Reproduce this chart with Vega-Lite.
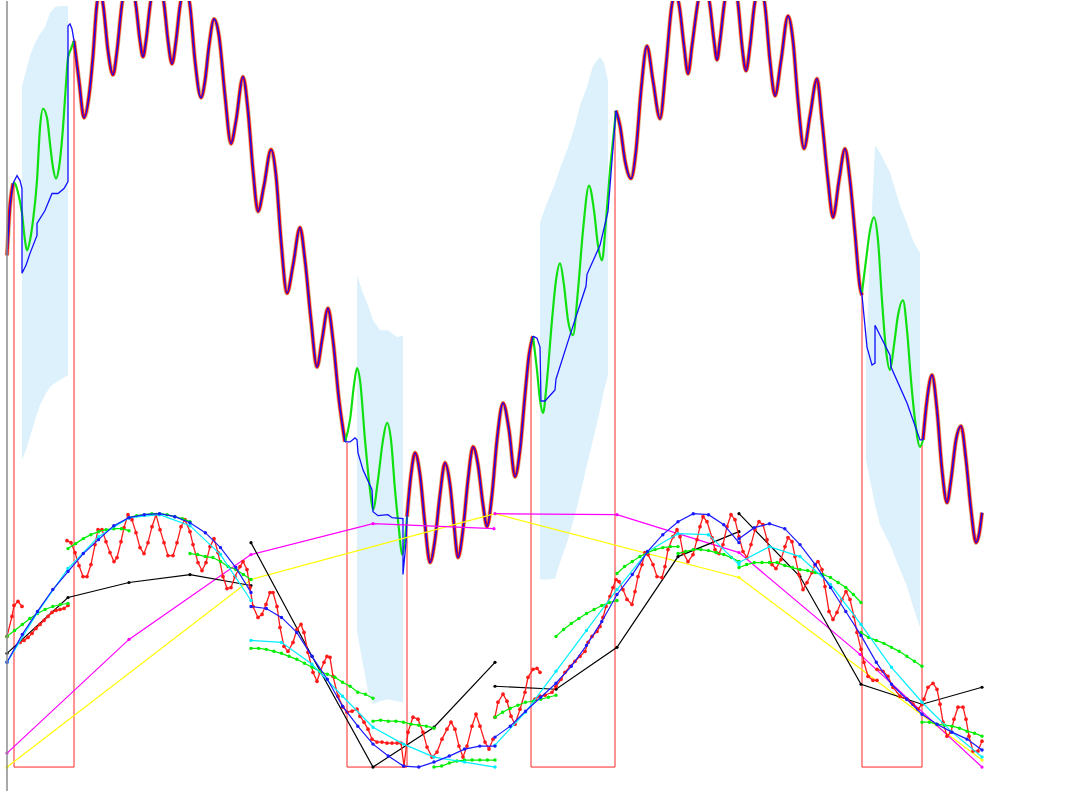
{
  "$schema": "https://vega.github.io/schema/vega-lite/v6.json",
  "width": 1066,
  "height": 792,
  "autosize": {"type": "fit", "contains": "padding"},
  "padding": 0,
  "config": {"view": {"stroke": null}},
  "datasets": {
    "bands": [
      {"band": 1, "x": 22, "top": 85, "bot": 460}, {"band": 1, "x": 26, "top": 70, "bot": 450}, {"band": 1, "x": 30, "top": 55, "bot": 437}, {"band": 1, "x": 35, "top": 42, "bot": 420}, {"band": 1, "x": 40, "top": 33, "bot": 405}, {"band": 1, "x": 45, "top": 26, "bot": 395}, {"band": 1, "x": 50, "top": 12, "bot": 387}, {"band": 1, "x": 55, "top": 6, "bot": 383}, {"band": 1, "x": 60, "top": 5, "bot": 380}, {"band": 1, "x": 68, "top": 5, "bot": 375},
      {"band": 2, "x": 357, "top": 275, "bot": 632}, {"band": 2, "x": 363, "top": 293, "bot": 665}, {"band": 2, "x": 368, "top": 305, "bot": 692}, {"band": 2, "x": 373, "top": 320, "bot": 705}, {"band": 2, "x": 380, "top": 330, "bot": 702}, {"band": 2, "x": 388, "top": 330, "bot": 700}, {"band": 2, "x": 397, "top": 337, "bot": 702}, {"band": 2, "x": 403, "top": 335, "bot": 703},
      {"band": 3, "x": 540, "top": 222, "bot": 580}, {"band": 3, "x": 548, "top": 200, "bot": 580}, {"band": 3, "x": 555, "top": 183, "bot": 579}, {"band": 3, "x": 561, "top": 165, "bot": 560}, {"band": 3, "x": 568, "top": 147, "bot": 540}, {"band": 3, "x": 575, "top": 125, "bot": 515}, {"band": 3, "x": 580, "top": 105, "bot": 495}, {"band": 3, "x": 587, "top": 86, "bot": 465}, {"band": 3, "x": 593, "top": 65, "bot": 440}, {"band": 3, "x": 600, "top": 56, "bot": 410}, {"band": 3, "x": 604, "top": 62, "bot": 390}, {"band": 3, "x": 608, "top": 80, "bot": 375},
      {"band": 4, "x": 866, "top": 360, "bot": 460}, {"band": 4, "x": 870, "top": 250, "bot": 480}, {"band": 4, "x": 875, "top": 145, "bot": 505}, {"band": 4, "x": 880, "top": 152, "bot": 525}, {"band": 4, "x": 890, "top": 172, "bot": 545}, {"band": 4, "x": 900, "top": 205, "bot": 570}, {"band": 4, "x": 907, "top": 223, "bot": 587}, {"band": 4, "x": 913, "top": 240, "bot": 607}, {"band": 4, "x": 920, "top": 253, "bot": 628}
    ],
    "price": [
      {"seg": "r0", "x": 7, "y": 255}, {"seg": "r0", "x": 10, "y": 205}, {"seg": "r0", "x": 13, "y": 183},
      {"seg": "g1", "x": 13, "y": 182}, {"seg": "g1", "x": 15, "y": 183}, {"seg": "g1", "x": 18, "y": 192}, {"seg": "g1", "x": 22, "y": 213}, {"seg": "g1", "x": 25, "y": 240}, {"seg": "g1", "x": 27, "y": 250}, {"seg": "g1", "x": 30, "y": 240}, {"seg": "g1", "x": 33, "y": 220}, {"seg": "g1", "x": 37, "y": 180}, {"seg": "g1", "x": 40, "y": 127}, {"seg": "g1", "x": 43, "y": 108}, {"seg": "g1", "x": 47, "y": 117}, {"seg": "g1", "x": 50, "y": 143}, {"seg": "g1", "x": 53, "y": 167}, {"seg": "g1", "x": 56, "y": 178}, {"seg": "g1", "x": 59, "y": 167}, {"seg": "g1", "x": 63, "y": 127}, {"seg": "g1", "x": 66, "y": 83}, {"seg": "g1", "x": 68, "y": 57}, {"seg": "g1", "x": 71, "y": 48}, {"seg": "g1", "x": 74, "y": 40},
      {"seg": "rA", "x": 74, "y": 40}, {"seg": "rA", "x": 79, "y": 80}, {"seg": "rA", "x": 84, "y": 117}, {"seg": "rA", "x": 89, "y": 95}, {"seg": "rA", "x": 93, "y": 55}, {"seg": "rA", "x": 96.7, "y": 5}, {"seg": "rA", "x": 100, "y": -12}, {"seg": "rA", "x": 103.3, "y": 5}, {"seg": "rA", "x": 108, "y": 50}, {"seg": "rA", "x": 113, "y": 74}, {"seg": "rA", "x": 117, "y": 50}, {"seg": "rA", "x": 121.7, "y": 5}, {"seg": "rA", "x": 129, "y": -30}, {"seg": "rA", "x": 136, "y": 5}, {"seg": "rA", "x": 140, "y": 40}, {"seg": "rA", "x": 143, "y": 56}, {"seg": "rA", "x": 146, "y": 40}, {"seg": "rA", "x": 150, "y": 5}, {"seg": "rA", "x": 157, "y": -30}, {"seg": "rA", "x": 164.3, "y": 5}, {"seg": "rA", "x": 168, "y": 40}, {"seg": "rA", "x": 172, "y": 63}, {"seg": "rA", "x": 176, "y": 40}, {"seg": "rA", "x": 180, "y": 5}, {"seg": "rA", "x": 185, "y": -15}, {"seg": "rA", "x": 190, "y": 5}, {"seg": "rA", "x": 195, "y": 60}, {"seg": "rA", "x": 201, "y": 97}, {"seg": "rA", "x": 205, "y": 80}, {"seg": "rA", "x": 209, "y": 45}, {"seg": "rA", "x": 214, "y": 18}, {"seg": "rA", "x": 219, "y": 35}, {"seg": "rA", "x": 225, "y": 95}, {"seg": "rA", "x": 231, "y": 143}, {"seg": "rA", "x": 236, "y": 120}, {"seg": "rA", "x": 243, "y": 76}, {"seg": "rA", "x": 248, "y": 110}, {"seg": "rA", "x": 253, "y": 170}, {"seg": "rA", "x": 258, "y": 211}, {"seg": "rA", "x": 264, "y": 185}, {"seg": "rA", "x": 271, "y": 149}, {"seg": "rA", "x": 276, "y": 175}, {"seg": "rA", "x": 281, "y": 240}, {"seg": "rA", "x": 287, "y": 293}, {"seg": "rA", "x": 293, "y": 265}, {"seg": "rA", "x": 300, "y": 227}, {"seg": "rA", "x": 305, "y": 260}, {"seg": "rA", "x": 311, "y": 320}, {"seg": "rA", "x": 317, "y": 367}, {"seg": "rA", "x": 322, "y": 340}, {"seg": "rA", "x": 328, "y": 308}, {"seg": "rA", "x": 333, "y": 340}, {"seg": "rA", "x": 339, "y": 400}, {"seg": "rA", "x": 345, "y": 442},
      {"seg": "g2", "x": 345, "y": 442}, {"seg": "g2", "x": 350, "y": 420}, {"seg": "g2", "x": 354, "y": 385}, {"seg": "g2", "x": 357, "y": 368}, {"seg": "g2", "x": 360, "y": 380}, {"seg": "g2", "x": 365, "y": 440}, {"seg": "g2", "x": 370, "y": 490}, {"seg": "g2", "x": 373, "y": 510}, {"seg": "g2", "x": 378, "y": 480}, {"seg": "g2", "x": 383, "y": 440}, {"seg": "g2", "x": 387, "y": 423}, {"seg": "g2", "x": 391, "y": 440}, {"seg": "g2", "x": 395, "y": 490}, {"seg": "g2", "x": 399, "y": 530}, {"seg": "g2", "x": 402, "y": 555}, {"seg": "g2", "x": 405, "y": 540}, {"seg": "g2", "x": 407, "y": 517},
      {"seg": "rB", "x": 407, "y": 517}, {"seg": "rB", "x": 411, "y": 475}, {"seg": "rB", "x": 415, "y": 453}, {"seg": "rB", "x": 420, "y": 475}, {"seg": "rB", "x": 425, "y": 525}, {"seg": "rB", "x": 430, "y": 563}, {"seg": "rB", "x": 435, "y": 540}, {"seg": "rB", "x": 440, "y": 495}, {"seg": "rB", "x": 445, "y": 463}, {"seg": "rB", "x": 450, "y": 485}, {"seg": "rB", "x": 454, "y": 525}, {"seg": "rB", "x": 458, "y": 558}, {"seg": "rB", "x": 463, "y": 530}, {"seg": "rB", "x": 468, "y": 480}, {"seg": "rB", "x": 473, "y": 447}, {"seg": "rB", "x": 478, "y": 465}, {"seg": "rB", "x": 483, "y": 505}, {"seg": "rB", "x": 487, "y": 527}, {"seg": "rB", "x": 492, "y": 495}, {"seg": "rB", "x": 497, "y": 440}, {"seg": "rB", "x": 503, "y": 403}, {"seg": "rB", "x": 509, "y": 430}, {"seg": "rB", "x": 515, "y": 477}, {"seg": "rB", "x": 520, "y": 450}, {"seg": "rB", "x": 525, "y": 395}, {"seg": "rB", "x": 529, "y": 355}, {"seg": "rB", "x": 533, "y": 336},
      {"seg": "g3", "x": 533, "y": 336}, {"seg": "g3", "x": 537, "y": 370}, {"seg": "g3", "x": 540, "y": 400}, {"seg": "g3", "x": 543, "y": 413}, {"seg": "g3", "x": 547, "y": 380}, {"seg": "g3", "x": 552, "y": 320}, {"seg": "g3", "x": 556, "y": 280}, {"seg": "g3", "x": 560, "y": 263}, {"seg": "g3", "x": 564, "y": 285}, {"seg": "g3", "x": 568, "y": 320}, {"seg": "g3", "x": 573, "y": 335}, {"seg": "g3", "x": 578, "y": 290}, {"seg": "g3", "x": 583, "y": 230}, {"seg": "g3", "x": 589, "y": 185}, {"seg": "g3", "x": 594, "y": 210}, {"seg": "g3", "x": 598, "y": 245}, {"seg": "g3", "x": 602, "y": 260}, {"seg": "g3", "x": 606, "y": 220}, {"seg": "g3", "x": 610, "y": 170}, {"seg": "g3", "x": 613, "y": 140}, {"seg": "g3", "x": 616, "y": 110},
      {"seg": "rC", "x": 616, "y": 110}, {"seg": "rC", "x": 620, "y": 125}, {"seg": "rC", "x": 625, "y": 160}, {"seg": "rC", "x": 631, "y": 178}, {"seg": "rC", "x": 636, "y": 150}, {"seg": "rC", "x": 641, "y": 90}, {"seg": "rC", "x": 647, "y": 45}, {"seg": "rC", "x": 653, "y": 80}, {"seg": "rC", "x": 660, "y": 118}, {"seg": "rC", "x": 666, "y": 65}, {"seg": "rC", "x": 671.7, "y": 5}, {"seg": "rC", "x": 675.5, "y": -8}, {"seg": "rC", "x": 679.3, "y": 5}, {"seg": "rC", "x": 684, "y": 45}, {"seg": "rC", "x": 688, "y": 73}, {"seg": "rC", "x": 692, "y": 45}, {"seg": "rC", "x": 697.3, "y": 5}, {"seg": "rC", "x": 703.7, "y": -25}, {"seg": "rC", "x": 710, "y": 5}, {"seg": "rC", "x": 714, "y": 40}, {"seg": "rC", "x": 717, "y": 59}, {"seg": "rC", "x": 720, "y": 40}, {"seg": "rC", "x": 724, "y": 5}, {"seg": "rC", "x": 731, "y": -30}, {"seg": "rC", "x": 738.3, "y": 5}, {"seg": "rC", "x": 742, "y": 45}, {"seg": "rC", "x": 746, "y": 70}, {"seg": "rC", "x": 750, "y": 45}, {"seg": "rC", "x": 754.3, "y": 5}, {"seg": "rC", "x": 759.7, "y": -15}, {"seg": "rC", "x": 765, "y": 5}, {"seg": "rC", "x": 770, "y": 60}, {"seg": "rC", "x": 775, "y": 95}, {"seg": "rC", "x": 781, "y": 60}, {"seg": "rC", "x": 788, "y": 15}, {"seg": "rC", "x": 793, "y": 40}, {"seg": "rC", "x": 798, "y": 100}, {"seg": "rC", "x": 804, "y": 148}, {"seg": "rC", "x": 810, "y": 115}, {"seg": "rC", "x": 817, "y": 78}, {"seg": "rC", "x": 822, "y": 120}, {"seg": "rC", "x": 828, "y": 180}, {"seg": "rC", "x": 833, "y": 217}, {"seg": "rC", "x": 839, "y": 180}, {"seg": "rC", "x": 845, "y": 148}, {"seg": "rC", "x": 850, "y": 180}, {"seg": "rC", "x": 855, "y": 233}, {"seg": "rC", "x": 860, "y": 287}, {"seg": "rC", "x": 862, "y": 295},
      {"seg": "g4", "x": 862, "y": 292}, {"seg": "g4", "x": 866, "y": 260}, {"seg": "g4", "x": 870, "y": 230}, {"seg": "g4", "x": 874, "y": 217}, {"seg": "g4", "x": 878, "y": 240}, {"seg": "g4", "x": 882, "y": 300}, {"seg": "g4", "x": 886, "y": 350}, {"seg": "g4", "x": 890, "y": 370}, {"seg": "g4", "x": 894, "y": 345}, {"seg": "g4", "x": 898, "y": 315}, {"seg": "g4", "x": 903, "y": 300}, {"seg": "g4", "x": 907, "y": 330}, {"seg": "g4", "x": 911, "y": 380}, {"seg": "g4", "x": 915, "y": 420}, {"seg": "g4", "x": 920, "y": 447}, {"seg": "g4", "x": 923, "y": 440},
      {"seg": "rD", "x": 923, "y": 440}, {"seg": "rD", "x": 927, "y": 400}, {"seg": "rD", "x": 932, "y": 375}, {"seg": "rD", "x": 937, "y": 410}, {"seg": "rD", "x": 942, "y": 470}, {"seg": "rD", "x": 947, "y": 503}, {"seg": "rD", "x": 951, "y": 480}, {"seg": "rD", "x": 956, "y": 440}, {"seg": "rD", "x": 961, "y": 426}, {"seg": "rD", "x": 966, "y": 460}, {"seg": "rD", "x": 971, "y": 510}, {"seg": "rD", "x": 976, "y": 543}, {"seg": "rD", "x": 979, "y": 535}, {"seg": "rD", "x": 982, "y": 513}
    ],
    "bluepath": [
      {"p": 1, "i": 1, "x": 7, "y": 255}, {"p": 1, "i": 2, "x": 10, "y": 205}, {"p": 1, "i": 3, "x": 13, "y": 183}, {"p": 1, "i": 4, "x": 17, "y": 175}, {"p": 1, "i": 5, "x": 20, "y": 180}, {"p": 1, "i": 6, "x": 22, "y": 188}, {"p": 1, "i": 7, "x": 22, "y": 273}, {"p": 1, "i": 8, "x": 26, "y": 265}, {"p": 1, "i": 9, "x": 30, "y": 253}, {"p": 1, "i": 10, "x": 37, "y": 235}, {"p": 1, "i": 11, "x": 37, "y": 223}, {"p": 1, "i": 12, "x": 45, "y": 210}, {"p": 1, "i": 13, "x": 52, "y": 193}, {"p": 1, "i": 14, "x": 58, "y": 193}, {"p": 1, "i": 15, "x": 64, "y": 188}, {"p": 1, "i": 16, "x": 68, "y": 181}, {"p": 1, "i": 17, "x": 68, "y": 25}, {"p": 1, "i": 18, "x": 70, "y": 23}, {"p": 1, "i": 19, "x": 72, "y": 28}, {"p": 1, "i": 20, "x": 74, "y": 40},
      {"p": 2, "i": 1, "x": 345, "y": 442}, {"p": 2, "i": 2, "x": 350, "y": 442}, {"p": 2, "i": 3, "x": 355, "y": 438}, {"p": 2, "i": 4, "x": 357, "y": 440}, {"p": 2, "i": 5, "x": 358, "y": 453}, {"p": 2, "i": 6, "x": 363, "y": 470}, {"p": 2, "i": 7, "x": 372, "y": 490}, {"p": 2, "i": 8, "x": 373, "y": 512}, {"p": 2, "i": 9, "x": 378, "y": 516}, {"p": 2, "i": 10, "x": 388, "y": 515}, {"p": 2, "i": 11, "x": 392, "y": 518}, {"p": 2, "i": 12, "x": 403, "y": 519}, {"p": 2, "i": 13, "x": 403, "y": 575}, {"p": 2, "i": 14, "x": 406, "y": 543}, {"p": 2, "i": 15, "x": 407, "y": 517},
      {"p": 3, "i": 1, "x": 533, "y": 336}, {"p": 3, "i": 2, "x": 537, "y": 338}, {"p": 3, "i": 3, "x": 540, "y": 347}, {"p": 3, "i": 4, "x": 541, "y": 401}, {"p": 3, "i": 5, "x": 545, "y": 401}, {"p": 3, "i": 6, "x": 555, "y": 390}, {"p": 3, "i": 7, "x": 556, "y": 379}, {"p": 3, "i": 8, "x": 570, "y": 335}, {"p": 3, "i": 9, "x": 586, "y": 286}, {"p": 3, "i": 10, "x": 587, "y": 274}, {"p": 3, "i": 11, "x": 600, "y": 245}, {"p": 3, "i": 12, "x": 608, "y": 211}, {"p": 3, "i": 13, "x": 615, "y": 122}, {"p": 3, "i": 14, "x": 616, "y": 110},
      {"p": 4, "i": 1, "x": 862, "y": 295}, {"p": 4, "i": 2, "x": 867, "y": 347}, {"p": 4, "i": 3, "x": 872, "y": 365}, {"p": 4, "i": 4, "x": 875, "y": 363}, {"p": 4, "i": 5, "x": 875, "y": 325}, {"p": 4, "i": 6, "x": 890, "y": 355}, {"p": 4, "i": 7, "x": 891, "y": 367}, {"p": 4, "i": 8, "x": 907, "y": 403}, {"p": 4, "i": 9, "x": 920, "y": 440}, {"p": 4, "i": 10, "x": 923, "y": 440}
    ],
    "boxes": [
      {"x1": 14, "x2": 74, "t1": 183, "t2": 38, "b": 768},
      {"x1": 347, "x2": 407, "t1": 443, "t2": 517, "b": 768},
      {"x1": 531, "x2": 615, "t1": 337, "t2": 110, "b": 768},
      {"x1": 862, "x2": 922, "t1": 292, "t2": 445, "b": 768}
    ],
    "edge": [{"x": 7, "y": 0, "y2": 792}],
    "osc": [
      {"s": "y", "g": 1, "x": 7, "y": 768}, {"s": "y", "g": 1, "x": 251, "y": 580}, {"s": "y", "g": 1, "x": 495, "y": 514}, {"s": "y", "g": 1, "x": 739, "y": 578}, {"s": "y", "g": 1, "x": 982, "y": 761},
      {"s": "m", "g": 1, "x": 7, "y": 754}, {"s": "m", "g": 1, "x": 129, "y": 640}, {"s": "m", "g": 1, "x": 251, "y": 555}, {"s": "m", "g": 1, "x": 373, "y": 524}, {"s": "m", "g": 1, "x": 494, "y": 529},
      {"s": "m", "g": 2, "x": 495, "y": 514}, {"s": "m", "g": 2, "x": 617, "y": 515}, {"s": "m", "g": 2, "x": 739, "y": 553}, {"s": "m", "g": 2, "x": 860, "y": 655}, {"s": "m", "g": 2, "x": 982, "y": 768},
      {"s": "k", "g": 1, "x": 7, "y": 654}, {"s": "k", "g": 1, "x": 68, "y": 598}, {"s": "k", "g": 1, "x": 129, "y": 583}, {"s": "k", "g": 1, "x": 190, "y": 575}, {"s": "k", "g": 1, "x": 251, "y": 586},
      {"s": "k", "g": 2, "x": 251, "y": 543}, {"s": "k", "g": 2, "x": 312, "y": 657}, {"s": "k", "g": 2, "x": 373, "y": 768}, {"s": "k", "g": 2, "x": 434, "y": 728}, {"s": "k", "g": 2, "x": 495, "y": 663},
      {"s": "k", "g": 3, "x": 495, "y": 687}, {"s": "k", "g": 3, "x": 556, "y": 690}, {"s": "k", "g": 3, "x": 617, "y": 648}, {"s": "k", "g": 3, "x": 678, "y": 557}, {"s": "k", "g": 3, "x": 739, "y": 532},
      {"s": "k", "g": 4, "x": 739, "y": 514}, {"s": "k", "g": 4, "x": 800, "y": 577}, {"s": "k", "g": 4, "x": 861, "y": 685}, {"s": "k", "g": 4, "x": 922, "y": 705}, {"s": "k", "g": 4, "x": 982, "y": 688},
      {"s": "r", "g": 1, "x": 7, "y": 637}, {"s": "r", "g": 1, "x": 12, "y": 617}, {"s": "r", "g": 1, "x": 14, "y": 606}, {"s": "r", "g": 1, "x": 18, "y": 602}, {"s": "r", "g": 1, "x": 22, "y": 607},
      {"s": "r", "g": 2, "x": 20, "y": 643}, {"s": "r", "g": 2, "x": 24, "y": 641}, {"s": "r", "g": 2, "x": 28, "y": 638}, {"s": "r", "g": 2, "x": 32, "y": 634}, {"s": "r", "g": 2, "x": 36, "y": 629}, {"s": "r", "g": 2, "x": 40, "y": 625}, {"s": "r", "g": 2, "x": 44, "y": 621}, {"s": "r", "g": 2, "x": 48, "y": 617}, {"s": "r", "g": 2, "x": 52, "y": 613}, {"s": "r", "g": 2, "x": 56, "y": 611}, {"s": "r", "g": 2, "x": 60, "y": 610}, {"s": "r", "g": 2, "x": 64, "y": 609}, {"s": "r", "g": 2, "x": 68, "y": 606},
      {"s": "r", "g": 3, "x": 67, "y": 541}, {"s": "r", "g": 3, "x": 71, "y": 543}, {"s": "r", "g": 3, "x": 75, "y": 553}, {"s": "r", "g": 3, "x": 79, "y": 566}, {"s": "r", "g": 3, "x": 83, "y": 577}, {"s": "r", "g": 3, "x": 87, "y": 577}, {"s": "r", "g": 3, "x": 91, "y": 565}, {"s": "r", "g": 3, "x": 95, "y": 545}, {"s": "r", "g": 3, "x": 98, "y": 530}, {"s": "r", "g": 3, "x": 102, "y": 530}, {"s": "r", "g": 3, "x": 106, "y": 542}, {"s": "r", "g": 3, "x": 110, "y": 553}, {"s": "r", "g": 3, "x": 114, "y": 562}, {"s": "r", "g": 3, "x": 117, "y": 558}, {"s": "r", "g": 3, "x": 121, "y": 542}, {"s": "r", "g": 3, "x": 124, "y": 528}, {"s": "r", "g": 3, "x": 128, "y": 515}, {"s": "r", "g": 3, "x": 132, "y": 520}, {"s": "r", "g": 3, "x": 136, "y": 533}, {"s": "r", "g": 3, "x": 140, "y": 548}, {"s": "r", "g": 3, "x": 144, "y": 554}, {"s": "r", "g": 3, "x": 148, "y": 543}, {"s": "r", "g": 3, "x": 152, "y": 527}, {"s": "r", "g": 3, "x": 156, "y": 515}, {"s": "r", "g": 3, "x": 160, "y": 530}, {"s": "r", "g": 3, "x": 164, "y": 543}, {"s": "r", "g": 3, "x": 168, "y": 556}, {"s": "r", "g": 3, "x": 173, "y": 556}, {"s": "r", "g": 3, "x": 177, "y": 543}, {"s": "r", "g": 3, "x": 181, "y": 527}, {"s": "r", "g": 3, "x": 185, "y": 520}, {"s": "r", "g": 3, "x": 190, "y": 532}, {"s": "r", "g": 3, "x": 193, "y": 545}, {"s": "r", "g": 3, "x": 198, "y": 563}, {"s": "r", "g": 3, "x": 202, "y": 571}, {"s": "r", "g": 3, "x": 206, "y": 563}, {"s": "r", "g": 3, "x": 210, "y": 547}, {"s": "r", "g": 3, "x": 214, "y": 539}, {"s": "r", "g": 3, "x": 218, "y": 553}, {"s": "r", "g": 3, "x": 223, "y": 577}, {"s": "r", "g": 3, "x": 227, "y": 589}, {"s": "r", "g": 3, "x": 231, "y": 588}, {"s": "r", "g": 3, "x": 235, "y": 577}, {"s": "r", "g": 3, "x": 240, "y": 567}, {"s": "r", "g": 3, "x": 243, "y": 562}, {"s": "r", "g": 3, "x": 247, "y": 570}, {"s": "r", "g": 3, "x": 250, "y": 588}, {"s": "r", "g": 3, "x": 253, "y": 607}, {"s": "r", "g": 3, "x": 258, "y": 618}, {"s": "r", "g": 3, "x": 262, "y": 615}, {"s": "r", "g": 3, "x": 266, "y": 605}, {"s": "r", "g": 3, "x": 270, "y": 593}, {"s": "r", "g": 3, "x": 273, "y": 593}, {"s": "r", "g": 3, "x": 277, "y": 607}, {"s": "r", "g": 3, "x": 280, "y": 628}, {"s": "r", "g": 3, "x": 284, "y": 647}, {"s": "r", "g": 3, "x": 288, "y": 652}, {"s": "r", "g": 3, "x": 293, "y": 643}, {"s": "r", "g": 3, "x": 297, "y": 630}, {"s": "r", "g": 3, "x": 301, "y": 625}, {"s": "r", "g": 3, "x": 304, "y": 633}, {"s": "r", "g": 3, "x": 308, "y": 653}, {"s": "r", "g": 3, "x": 313, "y": 673}, {"s": "r", "g": 3, "x": 317, "y": 682}, {"s": "r", "g": 3, "x": 320, "y": 673}, {"s": "r", "g": 3, "x": 324, "y": 663}, {"s": "r", "g": 3, "x": 327, "y": 657}, {"s": "r", "g": 3, "x": 330, "y": 658}, {"s": "r", "g": 3, "x": 333, "y": 677}, {"s": "r", "g": 3, "x": 338, "y": 697}, {"s": "r", "g": 3, "x": 343, "y": 708}, {"s": "r", "g": 3, "x": 347, "y": 713}, {"s": "r", "g": 3, "x": 352, "y": 712}, {"s": "r", "g": 3, "x": 357, "y": 710}, {"s": "r", "g": 3, "x": 360, "y": 717}, {"s": "r", "g": 3, "x": 364, "y": 723}, {"s": "r", "g": 3, "x": 368, "y": 730}, {"s": "r", "g": 3, "x": 372, "y": 740}, {"s": "r", "g": 3, "x": 377, "y": 743}, {"s": "r", "g": 3, "x": 382, "y": 743}, {"s": "r", "g": 3, "x": 387, "y": 744}, {"s": "r", "g": 3, "x": 392, "y": 744}, {"s": "r", "g": 3, "x": 397, "y": 744}, {"s": "r", "g": 3, "x": 401, "y": 744}, {"s": "r", "g": 3, "x": 404, "y": 767}, {"s": "r", "g": 3, "x": 408, "y": 733}, {"s": "r", "g": 3, "x": 413, "y": 718}, {"s": "r", "g": 3, "x": 418, "y": 720}, {"s": "r", "g": 3, "x": 423, "y": 733}, {"s": "r", "g": 3, "x": 427, "y": 748}, {"s": "r", "g": 3, "x": 432, "y": 758}, {"s": "r", "g": 3, "x": 437, "y": 753}, {"s": "r", "g": 3, "x": 442, "y": 740}, {"s": "r", "g": 3, "x": 447, "y": 730}, {"s": "r", "g": 3, "x": 451, "y": 723}, {"s": "r", "g": 3, "x": 455, "y": 730}, {"s": "r", "g": 3, "x": 459, "y": 747}, {"s": "r", "g": 3, "x": 463, "y": 758}, {"s": "r", "g": 3, "x": 467, "y": 747}, {"s": "r", "g": 3, "x": 472, "y": 727}, {"s": "r", "g": 3, "x": 476, "y": 715}, {"s": "r", "g": 3, "x": 480, "y": 727}, {"s": "r", "g": 3, "x": 485, "y": 743}, {"s": "r", "g": 3, "x": 489, "y": 750}, {"s": "r", "g": 3, "x": 493, "y": 740},
      {"s": "r", "g": 4, "x": 495, "y": 718}, {"s": "r", "g": 4, "x": 498, "y": 703}, {"s": "r", "g": 4, "x": 503, "y": 695}, {"s": "r", "g": 4, "x": 507, "y": 702}, {"s": "r", "g": 4, "x": 511, "y": 717}, {"s": "r", "g": 4, "x": 515, "y": 725}, {"s": "r", "g": 4, "x": 520, "y": 710}, {"s": "r", "g": 4, "x": 525, "y": 693}, {"s": "r", "g": 4, "x": 528, "y": 678}, {"s": "r", "g": 4, "x": 533, "y": 670}, {"s": "r", "g": 4, "x": 537, "y": 669}, {"s": "r", "g": 4, "x": 540, "y": 673},
      {"s": "r", "g": 5, "x": 535, "y": 700}, {"s": "r", "g": 5, "x": 540, "y": 697}, {"s": "r", "g": 5, "x": 545, "y": 696}, {"s": "r", "g": 5, "x": 552, "y": 693}, {"s": "r", "g": 5, "x": 556, "y": 687}, {"s": "r", "g": 5, "x": 561, "y": 680}, {"s": "r", "g": 5, "x": 565, "y": 673}, {"s": "r", "g": 5, "x": 570, "y": 667}, {"s": "r", "g": 5, "x": 575, "y": 662}, {"s": "r", "g": 5, "x": 580, "y": 657}, {"s": "r", "g": 5, "x": 585, "y": 652}, {"s": "r", "g": 5, "x": 588, "y": 643}, {"s": "r", "g": 5, "x": 592, "y": 637}, {"s": "r", "g": 5, "x": 597, "y": 632}, {"s": "r", "g": 5, "x": 600, "y": 627}, {"s": "r", "g": 5, "x": 603, "y": 618}, {"s": "r", "g": 5, "x": 606, "y": 607}, {"s": "r", "g": 5, "x": 610, "y": 597}, {"s": "r", "g": 5, "x": 613, "y": 588}, {"s": "r", "g": 5, "x": 616, "y": 580}, {"s": "r", "g": 5, "x": 619, "y": 582}, {"s": "r", "g": 5, "x": 623, "y": 590}, {"s": "r", "g": 5, "x": 627, "y": 600}, {"s": "r", "g": 5, "x": 632, "y": 605}, {"s": "r", "g": 5, "x": 635, "y": 592}, {"s": "r", "g": 5, "x": 638, "y": 577}, {"s": "r", "g": 5, "x": 642, "y": 565}, {"s": "r", "g": 5, "x": 645, "y": 553}, {"s": "r", "g": 5, "x": 648, "y": 555}, {"s": "r", "g": 5, "x": 653, "y": 565}, {"s": "r", "g": 5, "x": 657, "y": 577}, {"s": "r", "g": 5, "x": 662, "y": 578}, {"s": "r", "g": 5, "x": 665, "y": 567}, {"s": "r", "g": 5, "x": 668, "y": 550}, {"s": "r", "g": 5, "x": 673, "y": 537}, {"s": "r", "g": 5, "x": 677, "y": 530}, {"s": "r", "g": 5, "x": 680, "y": 537}, {"s": "r", "g": 5, "x": 683, "y": 553}, {"s": "r", "g": 5, "x": 688, "y": 562}, {"s": "r", "g": 5, "x": 693, "y": 555}, {"s": "r", "g": 5, "x": 697, "y": 540}, {"s": "r", "g": 5, "x": 700, "y": 527}, {"s": "r", "g": 5, "x": 703, "y": 517}, {"s": "r", "g": 5, "x": 707, "y": 522}, {"s": "r", "g": 5, "x": 712, "y": 538}, {"s": "r", "g": 5, "x": 715, "y": 550}, {"s": "r", "g": 5, "x": 719, "y": 554}, {"s": "r", "g": 5, "x": 723, "y": 545}, {"s": "r", "g": 5, "x": 727, "y": 527}, {"s": "r", "g": 5, "x": 731, "y": 515}, {"s": "r", "g": 5, "x": 735, "y": 520}, {"s": "r", "g": 5, "x": 739, "y": 537}, {"s": "r", "g": 5, "x": 743, "y": 552}, {"s": "r", "g": 5, "x": 747, "y": 558}, {"s": "r", "g": 5, "x": 751, "y": 545}, {"s": "r", "g": 5, "x": 755, "y": 530}, {"s": "r", "g": 5, "x": 759, "y": 522}, {"s": "r", "g": 5, "x": 763, "y": 525}, {"s": "r", "g": 5, "x": 767, "y": 540}, {"s": "r", "g": 5, "x": 772, "y": 565}, {"s": "r", "g": 5, "x": 776, "y": 569}, {"s": "r", "g": 5, "x": 781, "y": 560}, {"s": "r", "g": 5, "x": 785, "y": 547}, {"s": "r", "g": 5, "x": 788, "y": 538}, {"s": "r", "g": 5, "x": 792, "y": 542}, {"s": "r", "g": 5, "x": 795, "y": 557}, {"s": "r", "g": 5, "x": 799, "y": 575}, {"s": "r", "g": 5, "x": 803, "y": 590}, {"s": "r", "g": 5, "x": 807, "y": 583}, {"s": "r", "g": 5, "x": 812, "y": 573}, {"s": "r", "g": 5, "x": 815, "y": 565}, {"s": "r", "g": 5, "x": 818, "y": 562}, {"s": "r", "g": 5, "x": 822, "y": 570}, {"s": "r", "g": 5, "x": 825, "y": 587}, {"s": "r", "g": 5, "x": 829, "y": 612}, {"s": "r", "g": 5, "x": 833, "y": 620}, {"s": "r", "g": 5, "x": 837, "y": 613}, {"s": "r", "g": 5, "x": 842, "y": 600}, {"s": "r", "g": 5, "x": 846, "y": 592}, {"s": "r", "g": 5, "x": 850, "y": 600}, {"s": "r", "g": 5, "x": 854, "y": 617}, {"s": "r", "g": 5, "x": 857, "y": 633}, {"s": "r", "g": 5, "x": 861, "y": 650}, {"s": "r", "g": 5, "x": 864, "y": 663}, {"s": "r", "g": 5, "x": 868, "y": 677}, {"s": "r", "g": 5, "x": 873, "y": 681}, {"s": "r", "g": 5, "x": 877, "y": 681},
      {"s": "r", "g": 6, "x": 877, "y": 670}, {"s": "r", "g": 6, "x": 883, "y": 672}, {"s": "r", "g": 6, "x": 888, "y": 677}, {"s": "r", "g": 6, "x": 893, "y": 688}, {"s": "r", "g": 6, "x": 900, "y": 697}, {"s": "r", "g": 6, "x": 907, "y": 700}, {"s": "r", "g": 6, "x": 913, "y": 705}, {"s": "r", "g": 6, "x": 918, "y": 710}, {"s": "r", "g": 6, "x": 922, "y": 705}, {"s": "r", "g": 6, "x": 924, "y": 700}, {"s": "r", "g": 6, "x": 928, "y": 688}, {"s": "r", "g": 6, "x": 933, "y": 684}, {"s": "r", "g": 6, "x": 937, "y": 690}, {"s": "r", "g": 6, "x": 940, "y": 705}, {"s": "r", "g": 6, "x": 943, "y": 723}, {"s": "r", "g": 6, "x": 947, "y": 737}, {"s": "r", "g": 6, "x": 951, "y": 733}, {"s": "r", "g": 6, "x": 954, "y": 720}, {"s": "r", "g": 6, "x": 958, "y": 708}, {"s": "r", "g": 6, "x": 963, "y": 708}, {"s": "r", "g": 6, "x": 966, "y": 720}, {"s": "r", "g": 6, "x": 969, "y": 737}, {"s": "r", "g": 6, "x": 973, "y": 752}, {"s": "r", "g": 6, "x": 978, "y": 752}, {"s": "r", "g": 6, "x": 982, "y": 742},
      {"s": "l", "g": 1, "x": 7, "y": 637}, {"s": "l", "g": 1, "x": 14.6, "y": 631}, {"s": "l", "g": 1, "x": 22.3, "y": 625}, {"s": "l", "g": 1, "x": 29.9, "y": 619}, {"s": "l", "g": 1, "x": 37.5, "y": 614}, {"s": "l", "g": 1, "x": 45.1, "y": 610}, {"s": "l", "g": 1, "x": 52.8, "y": 607}, {"s": "l", "g": 1, "x": 60.4, "y": 605}, {"s": "l", "g": 1, "x": 68, "y": 604},
      {"s": "l", "g": 2, "x": 68, "y": 549}, {"s": "l", "g": 2, "x": 75.6, "y": 544}, {"s": "l", "g": 2, "x": 83.3, "y": 539}, {"s": "l", "g": 2, "x": 90.9, "y": 535}, {"s": "l", "g": 2, "x": 98.5, "y": 532}, {"s": "l", "g": 2, "x": 106.1, "y": 530}, {"s": "l", "g": 2, "x": 113.8, "y": 529}, {"s": "l", "g": 2, "x": 121.4, "y": 529}, {"s": "l", "g": 2, "x": 129, "y": 531},
      {"s": "l", "g": 3, "x": 129, "y": 518}, {"s": "l", "g": 3, "x": 136.6, "y": 516}, {"s": "l", "g": 3, "x": 144.3, "y": 515}, {"s": "l", "g": 3, "x": 151.9, "y": 514}, {"s": "l", "g": 3, "x": 159.5, "y": 514}, {"s": "l", "g": 3, "x": 167.1, "y": 515}, {"s": "l", "g": 3, "x": 174.8, "y": 517}, {"s": "l", "g": 3, "x": 182.4, "y": 519}, {"s": "l", "g": 3, "x": 190, "y": 522},
      {"s": "l", "g": 4, "x": 190, "y": 554}, {"s": "l", "g": 4, "x": 197.6, "y": 555}, {"s": "l", "g": 4, "x": 205.3, "y": 557}, {"s": "l", "g": 4, "x": 212.9, "y": 558}, {"s": "l", "g": 4, "x": 220.5, "y": 562}, {"s": "l", "g": 4, "x": 228.1, "y": 567}, {"s": "l", "g": 4, "x": 235.8, "y": 570}, {"s": "l", "g": 4, "x": 243.4, "y": 575}, {"s": "l", "g": 4, "x": 251, "y": 580},
      {"s": "l", "g": 5, "x": 251, "y": 649}, {"s": "l", "g": 5, "x": 258.6, "y": 649}, {"s": "l", "g": 5, "x": 266.3, "y": 650}, {"s": "l", "g": 5, "x": 273.9, "y": 652}, {"s": "l", "g": 5, "x": 281.5, "y": 654}, {"s": "l", "g": 5, "x": 289.1, "y": 657}, {"s": "l", "g": 5, "x": 296.8, "y": 660}, {"s": "l", "g": 5, "x": 304.4, "y": 664}, {"s": "l", "g": 5, "x": 312, "y": 668}, {"s": "l", "g": 5, "x": 319.6, "y": 672}, {"s": "l", "g": 5, "x": 327.3, "y": 675}, {"s": "l", "g": 5, "x": 334.9, "y": 678}, {"s": "l", "g": 5, "x": 342.5, "y": 683}, {"s": "l", "g": 5, "x": 350.1, "y": 687}, {"s": "l", "g": 5, "x": 357.8, "y": 693}, {"s": "l", "g": 5, "x": 365.4, "y": 695}, {"s": "l", "g": 5, "x": 373, "y": 699},
      {"s": "l", "g": 6, "x": 373, "y": 722}, {"s": "l", "g": 6, "x": 380.6, "y": 721}, {"s": "l", "g": 6, "x": 388.3, "y": 722}, {"s": "l", "g": 6, "x": 395.9, "y": 722}, {"s": "l", "g": 6, "x": 403.5, "y": 723}, {"s": "l", "g": 6, "x": 411.1, "y": 725}, {"s": "l", "g": 6, "x": 418.8, "y": 726}, {"s": "l", "g": 6, "x": 426.4, "y": 727}, {"s": "l", "g": 6, "x": 434, "y": 729},
      {"s": "l", "g": 7, "x": 434, "y": 768}, {"s": "l", "g": 7, "x": 441.6, "y": 767}, {"s": "l", "g": 7, "x": 449.3, "y": 764}, {"s": "l", "g": 7, "x": 456.9, "y": 762}, {"s": "l", "g": 7, "x": 464.5, "y": 761}, {"s": "l", "g": 7, "x": 472.1, "y": 761}, {"s": "l", "g": 7, "x": 479.8, "y": 761}, {"s": "l", "g": 7, "x": 487.4, "y": 761}, {"s": "l", "g": 7, "x": 495, "y": 761},
      {"s": "l", "g": 8, "x": 495, "y": 718}, {"s": "l", "g": 8, "x": 502.6, "y": 713}, {"s": "l", "g": 8, "x": 510.3, "y": 709}, {"s": "l", "g": 8, "x": 517.9, "y": 706}, {"s": "l", "g": 8, "x": 525.5, "y": 703}, {"s": "l", "g": 8, "x": 533.1, "y": 702}, {"s": "l", "g": 8, "x": 540.8, "y": 700}, {"s": "l", "g": 8, "x": 548.4, "y": 698}, {"s": "l", "g": 8, "x": 556, "y": 696},
      {"s": "l", "g": 9, "x": 556, "y": 637}, {"s": "l", "g": 9, "x": 563.6, "y": 630}, {"s": "l", "g": 9, "x": 571.3, "y": 624}, {"s": "l", "g": 9, "x": 578.9, "y": 619}, {"s": "l", "g": 9, "x": 586.5, "y": 614}, {"s": "l", "g": 9, "x": 594.1, "y": 610}, {"s": "l", "g": 9, "x": 601.8, "y": 606}, {"s": "l", "g": 9, "x": 609.4, "y": 603}, {"s": "l", "g": 9, "x": 617, "y": 601},
      {"s": "l", "g": 10, "x": 617, "y": 574}, {"s": "l", "g": 10, "x": 624.6, "y": 567}, {"s": "l", "g": 10, "x": 632.3, "y": 562}, {"s": "l", "g": 10, "x": 639.9, "y": 557}, {"s": "l", "g": 10, "x": 647.5, "y": 553}, {"s": "l", "g": 10, "x": 655.1, "y": 550}, {"s": "l", "g": 10, "x": 662.8, "y": 548}, {"s": "l", "g": 10, "x": 670.4, "y": 547}, {"s": "l", "g": 10, "x": 678, "y": 547},
      {"s": "l", "g": 11, "x": 678, "y": 554}, {"s": "l", "g": 11, "x": 685.6, "y": 552}, {"s": "l", "g": 11, "x": 693.3, "y": 550}, {"s": "l", "g": 11, "x": 700.9, "y": 550}, {"s": "l", "g": 11, "x": 708.5, "y": 551}, {"s": "l", "g": 11, "x": 716.1, "y": 553}, {"s": "l", "g": 11, "x": 723.8, "y": 555}, {"s": "l", "g": 11, "x": 731.4, "y": 558}, {"s": "l", "g": 11, "x": 739, "y": 562},
      {"s": "l", "g": 12, "x": 739, "y": 568}, {"s": "l", "g": 12, "x": 746.6, "y": 565}, {"s": "l", "g": 12, "x": 754.3, "y": 563}, {"s": "l", "g": 12, "x": 761.9, "y": 563}, {"s": "l", "g": 12, "x": 769.5, "y": 563}, {"s": "l", "g": 12, "x": 777.1, "y": 563}, {"s": "l", "g": 12, "x": 784.8, "y": 566}, {"s": "l", "g": 12, "x": 792.4, "y": 568}, {"s": "l", "g": 12, "x": 800, "y": 570}, {"s": "l", "g": 12, "x": 807.6, "y": 571}, {"s": "l", "g": 12, "x": 815.3, "y": 573}, {"s": "l", "g": 12, "x": 822.9, "y": 575}, {"s": "l", "g": 12, "x": 830.5, "y": 578}, {"s": "l", "g": 12, "x": 838.1, "y": 583}, {"s": "l", "g": 12, "x": 845.8, "y": 588}, {"s": "l", "g": 12, "x": 853.4, "y": 595}, {"s": "l", "g": 12, "x": 861, "y": 603},
      {"s": "l", "g": 13, "x": 861, "y": 633}, {"s": "l", "g": 13, "x": 868.6, "y": 638}, {"s": "l", "g": 13, "x": 876.3, "y": 641}, {"s": "l", "g": 13, "x": 883.9, "y": 644}, {"s": "l", "g": 13, "x": 891.5, "y": 648}, {"s": "l", "g": 13, "x": 899.1, "y": 652}, {"s": "l", "g": 13, "x": 906.8, "y": 657}, {"s": "l", "g": 13, "x": 914.4, "y": 662}, {"s": "l", "g": 13, "x": 922, "y": 667},
      {"s": "l", "g": 14, "x": 922, "y": 723}, {"s": "l", "g": 14, "x": 929.5, "y": 723}, {"s": "l", "g": 14, "x": 937, "y": 725}, {"s": "l", "g": 14, "x": 944.5, "y": 726}, {"s": "l", "g": 14, "x": 952, "y": 727}, {"s": "l", "g": 14, "x": 959.5, "y": 729}, {"s": "l", "g": 14, "x": 967, "y": 732}, {"s": "l", "g": 14, "x": 974.5, "y": 734}, {"s": "l", "g": 14, "x": 982, "y": 737},
      {"s": "c", "g": 1, "x": 7, "y": 663}, {"s": "c", "g": 1, "x": 37.5, "y": 613}, {"s": "c", "g": 1, "x": 68, "y": 569}, {"s": "c", "g": 1, "x": 98.5, "y": 537}, {"s": "c", "g": 1, "x": 129, "y": 518}, {"s": "c", "g": 1, "x": 159.5, "y": 515}, {"s": "c", "g": 1, "x": 190, "y": 526}, {"s": "c", "g": 1, "x": 220.5, "y": 555}, {"s": "c", "g": 1, "x": 251, "y": 601},
      {"s": "c", "g": 2, "x": 251, "y": 641}, {"s": "c", "g": 2, "x": 281.5, "y": 643}, {"s": "c", "g": 2, "x": 312, "y": 665}, {"s": "c", "g": 2, "x": 342.5, "y": 697}, {"s": "c", "g": 2, "x": 373, "y": 728}, {"s": "c", "g": 2, "x": 403.5, "y": 745}, {"s": "c", "g": 2, "x": 434, "y": 758}, {"s": "c", "g": 2, "x": 464.5, "y": 763}, {"s": "c", "g": 2, "x": 495, "y": 768},
      {"s": "c", "g": 3, "x": 495, "y": 746}, {"s": "c", "g": 3, "x": 525.5, "y": 713}, {"s": "c", "g": 3, "x": 556, "y": 672}, {"s": "c", "g": 3, "x": 586.5, "y": 631}, {"s": "c", "g": 3, "x": 617, "y": 590}, {"s": "c", "g": 3, "x": 647.5, "y": 552}, {"s": "c", "g": 3, "x": 678, "y": 534}, {"s": "c", "g": 3, "x": 708.5, "y": 535}, {"s": "c", "g": 3, "x": 739, "y": 565},
      {"s": "c", "g": 4, "x": 739, "y": 563}, {"s": "c", "g": 4, "x": 769.5, "y": 547}, {"s": "c", "g": 4, "x": 800, "y": 557}, {"s": "c", "g": 4, "x": 830.5, "y": 585}, {"s": "c", "g": 4, "x": 861, "y": 625}, {"s": "c", "g": 4, "x": 891.5, "y": 668}, {"s": "c", "g": 4, "x": 922, "y": 703}, {"s": "c", "g": 4, "x": 952, "y": 733}, {"s": "c", "g": 4, "x": 982, "y": 758},
      {"s": "b", "g": 1, "x": 7, "y": 663}, {"s": "b", "g": 1, "x": 22.3, "y": 635}, {"s": "b", "g": 1, "x": 37.5, "y": 612}, {"s": "b", "g": 1, "x": 52.8, "y": 590}, {"s": "b", "g": 1, "x": 68, "y": 572}, {"s": "b", "g": 1, "x": 83.3, "y": 554}, {"s": "b", "g": 1, "x": 98.5, "y": 540}, {"s": "b", "g": 1, "x": 113.8, "y": 526}, {"s": "b", "g": 1, "x": 129, "y": 518}, {"s": "b", "g": 1, "x": 144.3, "y": 515}, {"s": "b", "g": 1, "x": 159.5, "y": 514}, {"s": "b", "g": 1, "x": 174.8, "y": 517}, {"s": "b", "g": 1, "x": 190, "y": 523}, {"s": "b", "g": 1, "x": 205.3, "y": 533}, {"s": "b", "g": 1, "x": 220.5, "y": 548}, {"s": "b", "g": 1, "x": 235.8, "y": 568}, {"s": "b", "g": 1, "x": 251, "y": 593},
      {"s": "b", "g": 2, "x": 251, "y": 607}, {"s": "b", "g": 2, "x": 266.3, "y": 609}, {"s": "b", "g": 2, "x": 281.5, "y": 618}, {"s": "b", "g": 2, "x": 296.8, "y": 633}, {"s": "b", "g": 2, "x": 312, "y": 657}, {"s": "b", "g": 2, "x": 327.3, "y": 680}, {"s": "b", "g": 2, "x": 342.5, "y": 707}, {"s": "b", "g": 2, "x": 357.8, "y": 727}, {"s": "b", "g": 2, "x": 373, "y": 745}, {"s": "b", "g": 2, "x": 388.3, "y": 757}, {"s": "b", "g": 2, "x": 403.5, "y": 767}, {"s": "b", "g": 2, "x": 418.8, "y": 768}, {"s": "b", "g": 2, "x": 434, "y": 763}, {"s": "b", "g": 2, "x": 449.3, "y": 757}, {"s": "b", "g": 2, "x": 464.5, "y": 750}, {"s": "b", "g": 2, "x": 479.8, "y": 747}, {"s": "b", "g": 2, "x": 495, "y": 747},
      {"s": "b", "g": 3, "x": 495, "y": 738}, {"s": "b", "g": 3, "x": 510.3, "y": 727}, {"s": "b", "g": 3, "x": 525.5, "y": 712}, {"s": "b", "g": 3, "x": 540.8, "y": 698}, {"s": "b", "g": 3, "x": 556, "y": 684}, {"s": "b", "g": 3, "x": 571.3, "y": 667}, {"s": "b", "g": 3, "x": 586.5, "y": 646}, {"s": "b", "g": 3, "x": 601.8, "y": 622}, {"s": "b", "g": 3, "x": 617, "y": 595}, {"s": "b", "g": 3, "x": 632.3, "y": 575}, {"s": "b", "g": 3, "x": 647.5, "y": 552}, {"s": "b", "g": 3, "x": 662.8, "y": 535}, {"s": "b", "g": 3, "x": 678, "y": 522}, {"s": "b", "g": 3, "x": 693.3, "y": 514}, {"s": "b", "g": 3, "x": 708.5, "y": 515}, {"s": "b", "g": 3, "x": 723.8, "y": 525}, {"s": "b", "g": 3, "x": 739, "y": 543},
      {"s": "b", "g": 4, "x": 739, "y": 539}, {"s": "b", "g": 4, "x": 754.3, "y": 528}, {"s": "b", "g": 4, "x": 769.5, "y": 524}, {"s": "b", "g": 4, "x": 784.8, "y": 529}, {"s": "b", "g": 4, "x": 800, "y": 545}, {"s": "b", "g": 4, "x": 815.3, "y": 565}, {"s": "b", "g": 4, "x": 830.5, "y": 588}, {"s": "b", "g": 4, "x": 845.8, "y": 612}, {"s": "b", "g": 4, "x": 861, "y": 636}, {"s": "b", "g": 4, "x": 876.3, "y": 663}, {"s": "b", "g": 4, "x": 891.5, "y": 685}, {"s": "b", "g": 4, "x": 906.8, "y": 700}, {"s": "b", "g": 4, "x": 922, "y": 715}, {"s": "b", "g": 4, "x": 937, "y": 725}, {"s": "b", "g": 4, "x": 952, "y": 733}, {"s": "b", "g": 4, "x": 967, "y": 740}, {"s": "b", "g": 4, "x": 982, "y": 751}
    ]
  },
  "encoding": {
    "x": {"field": "x", "type": "quantitative", "scale": {"domain": [0, 1066], "nice": false, "zero": false}, "axis": null},
    "y": {"field": "y", "type": "quantitative", "scale": {"domain": [0, 792], "reverse": true, "nice": false, "zero": false}, "axis": null}
  },
  "layer": [
    {
      "data": {"name": "bands"},
      "mark": {"type": "area", "color": "#dcf1fc", "opacity": 1},
      "encoding": {
        "y": {"field": "top", "type": "quantitative", "scale": {"domain": [0, 792], "reverse": true, "nice": false, "zero": false}, "axis": null},
        "y2": {"field": "bot"},
        "detail": {"field": "band", "type": "nominal"}
      }
    },
    {
      "data": {"name": "boxes"},
      "mark": {"type": "rule", "color": "#ff1010", "strokeWidth": 1, "opacity": 0.9},
      "encoding": {
        "x": {"field": "x1", "type": "quantitative", "scale": {"domain": [0, 1066], "nice": false, "zero": false}, "axis": null},
        "y": {"field": "t1", "type": "quantitative", "scale": {"domain": [0, 792], "reverse": true, "nice": false, "zero": false}, "axis": null},
        "y2": {"field": "b"}
      }
    },
    {
      "data": {"name": "boxes"},
      "mark": {"type": "rule", "color": "#ff1010", "strokeWidth": 1, "opacity": 0.9},
      "encoding": {
        "x": {"field": "x2", "type": "quantitative", "scale": {"domain": [0, 1066], "nice": false, "zero": false}, "axis": null},
        "y": {"field": "t2", "type": "quantitative", "scale": {"domain": [0, 792], "reverse": true, "nice": false, "zero": false}, "axis": null},
        "y2": {"field": "b"}
      }
    },
    {
      "data": {"name": "boxes"},
      "mark": {"type": "rule", "color": "#ff1010", "strokeWidth": 1, "opacity": 0.9},
      "encoding": {
        "x": {"field": "x1", "type": "quantitative", "scale": {"domain": [0, 1066], "nice": false, "zero": false}, "axis": null},
        "x2": {"field": "x2"},
        "y": {"field": "b", "type": "quantitative", "scale": {"domain": [0, 792], "reverse": true, "nice": false, "zero": false}, "axis": null}
      }
    },
    {
      "data": {"name": "price"},
      "transform": [{"filter": "indexof(datum.seg, 'r') === 0"}],
      "mark": {"type": "line", "color": "#c9a063", "strokeWidth": 4.5, "opacity": 0.7, "interpolate": "monotone", "clip": true},
      "encoding": {"detail": {"field": "seg", "type": "nominal"}}
    },
    {
      "data": {"name": "price"},
      "transform": [{"filter": "indexof(datum.seg, 'r') === 0"}],
      "mark": {"type": "line", "color": "#ff0000", "strokeWidth": 3, "interpolate": "monotone", "clip": true},
      "encoding": {"detail": {"field": "seg", "type": "nominal"}}
    },
    {
      "data": {"name": "price"},
      "transform": [{"filter": "indexof(datum.seg, 'g') === 0"}],
      "mark": {"type": "line", "color": "#10e010", "strokeWidth": 2.2, "interpolate": "monotone", "clip": true},
      "encoding": {"detail": {"field": "seg", "type": "nominal"}}
    },
    {
      "data": {"name": "price"},
      "transform": [{"filter": "indexof(datum.seg, 'r') === 0 && datum.seg !== 'r0'"}],
      "mark": {"type": "line", "color": "#1010ff", "strokeWidth": 1.4, "interpolate": "monotone", "clip": true},
      "encoding": {"detail": {"field": "seg", "type": "nominal"}}
    },
    {
      "data": {"name": "bluepath"},
      "mark": {"type": "line", "color": "#1010ff", "strokeWidth": 1.3, "clip": true},
      "encoding": {"detail": {"field": "p", "type": "nominal"}, "order": {"field": "i", "type": "quantitative"}}
    },
    {
      "data": {"name": "osc"},
      "transform": [{"filter": "datum.s === 'y'"}],
      "mark": {"type": "line", "color": "#ffff00", "strokeWidth": 1.2, "point": {"filled": true, "size": 10, "color": "#ffff00"}},
      "encoding": {"detail": {"field": "g", "type": "nominal"}}
    },
    {
      "data": {"name": "osc"},
      "transform": [{"filter": "datum.s === 'm'"}],
      "mark": {"type": "line", "color": "#ff00ff", "strokeWidth": 1.2, "point": {"filled": true, "size": 10, "color": "#ff00ff"}},
      "encoding": {"detail": {"field": "g", "type": "nominal"}}
    },
    {
      "data": {"name": "osc"},
      "transform": [{"filter": "datum.s === 'k'"}],
      "mark": {"type": "line", "color": "#000000", "strokeWidth": 1.2, "point": {"filled": true, "size": 10, "color": "#000000"}},
      "encoding": {"detail": {"field": "g", "type": "nominal"}}
    },
    {
      "data": {"name": "osc"},
      "transform": [{"filter": "datum.s === 'r'"}],
      "mark": {"type": "line", "color": "#ff1a1a", "strokeWidth": 1.3, "point": {"filled": true, "size": 14, "color": "#ff1a1a"}},
      "encoding": {"detail": {"field": "g", "type": "nominal"}}
    },
    {
      "data": {"name": "osc"},
      "transform": [{"filter": "datum.s === 'l'"}],
      "mark": {"type": "line", "color": "#00ee00", "strokeWidth": 1.2, "point": {"filled": true, "size": 12, "color": "#00ee00"}},
      "encoding": {"detail": {"field": "g", "type": "nominal"}}
    },
    {
      "data": {"name": "osc"},
      "transform": [{"filter": "datum.s === 'c'"}],
      "mark": {"type": "line", "color": "#00eeff", "strokeWidth": 1.2, "point": {"filled": true, "size": 12, "color": "#00eeff"}},
      "encoding": {"detail": {"field": "g", "type": "nominal"}}
    },
    {
      "data": {"name": "osc"},
      "transform": [{"filter": "datum.s === 'b'"}],
      "mark": {"type": "line", "color": "#1a1aff", "strokeWidth": 1.2, "point": {"filled": true, "size": 12, "color": "#1a1aff"}},
      "encoding": {"detail": {"field": "g", "type": "nominal"}}
    },
    {
      "data": {"name": "edge"},
      "mark": {"type": "rule", "color": "#8c8c8c", "strokeWidth": 1.5},
      "encoding": {"y2": {"field": "y2"}}
    }
  ]
}
